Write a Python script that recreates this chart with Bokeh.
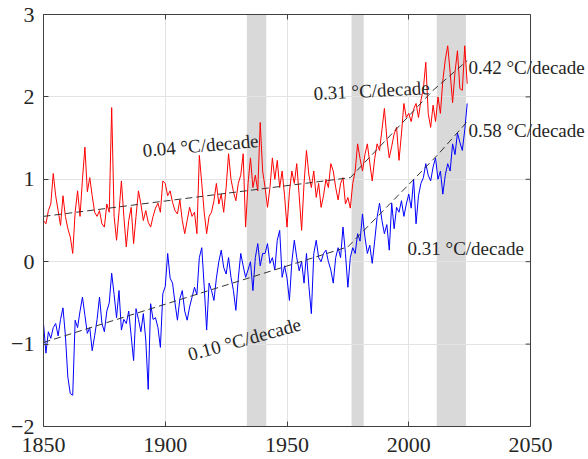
from bokeh.plotting import figure
from bokeh.models import Label, LinearAxis, BoxAnnotation, FixedTicker, Range1d, CustomJSTickFormatter, Span
from bokeh.embed import file_html
from bokeh.resources import INLINE
import math

years = list(range(1850, 2025))

land = [
    0.50, 0.46, 0.62, 0.70, 1.07, 0.80, 0.62, 0.44, 0.80, 0.55,
    0.40, 0.30, 0.10, 0.60, 0.86, 0.55, 1.00, 1.39, 0.85, 1.02,
    0.80, 0.60, 0.55, 0.62, 0.46, 0.42, 0.70, 0.60, 1.87, 0.55,
    0.26, 0.60, 0.98, 0.55, 0.18, 0.50, 0.66, 0.22, 0.55, 0.86,
    0.70, 0.50, 0.62, 0.48, 0.42, 0.55, 0.65, 0.71, 0.60, 0.98,
    0.95, 0.80, 0.86, 0.72, 0.62, 0.58, 0.75, 0.50, 0.34, 0.50,
    0.66, 0.55, 0.60, 0.34, 1.29, 0.95, 0.60, 0.34, 0.55, 0.60,
    0.74, 0.95, 0.70, 0.82, 0.60, 0.90, 1.31, 1.00, 0.85, 0.74,
    0.95, 1.05, 1.31, 0.42, 0.95, 1.26, 0.90, 1.05, 0.86, 1.69,
    1.10, 0.90, 0.66, 0.90, 1.26, 1.00, 1.23, 0.90, 1.10, 0.80,
    0.42, 0.85, 1.10, 0.95, 1.19, 0.80, 0.38, 0.95, 1.35, 1.05,
    0.90, 1.10, 0.78, 0.95, 0.66, 0.80, 1.00, 0.90, 1.19, 1.10,
    0.90, 0.75, 0.95, 1.02, 0.70, 0.78, 0.65, 0.95, 1.10, 1.43,
    1.25, 1.10, 1.30, 1.43, 1.20, 0.98, 1.25, 1.43, 1.35, 1.60,
    1.86, 1.50, 1.26, 1.40, 1.55, 1.63, 1.23, 1.55, 1.92, 1.75,
    1.80, 1.70, 1.85, 1.92, 1.75, 1.96, 2.10, 2.42, 1.80, 1.63,
    1.90, 1.70, 2.00, 1.80, 2.20, 2.45, 2.62, 2.30, 1.93, 2.30,
    2.56, 2.10, 2.08, 2.62, 2.16,
]

ocean = [
    -0.75, -1.11, -0.85, -0.93, -0.80, -0.75, -0.90, -0.70, -0.56, -0.90,
    -1.40, -1.60, -1.62, -0.71, -0.80, -0.60, -0.43, -0.65, -0.87, -0.80,
    -1.08, -0.90, -0.70, -0.43, -0.75, -0.85, -0.60, -0.50, -0.14, -0.40,
    -0.68, -0.35, -0.83, -0.70, -0.75, -0.60, -0.90, -1.20, -0.57, -0.70,
    -0.85, -0.63, -0.95, -1.55, -0.51, -0.70, -0.68, -0.80, -1.04, -0.39,
    -0.30, 0.10, -0.20, -0.26, -0.50, -0.71, -0.45, -0.35, -0.60, -0.71,
    -0.55, -0.43, -0.31, -0.40, 0.05, 0.17, -0.30, -0.83, -0.26, -0.35,
    -0.47, -0.20, 0.00, 0.14, -0.07, -0.15, 0.05, -0.19, -0.35, -0.59,
    -0.20, 0.10, -0.05, -0.19, -0.10, 0.00, -0.35, 0.05, 0.22, -0.05,
    0.10, 0.10, 0.22, -0.02, 0.05, -0.10, 0.26, 0.38, -0.19, -0.05,
    -0.20, -0.47, 0.00, 0.26, 0.05, -0.11, 0.00, -0.26, 0.10, -0.30,
    -0.63, 0.10, 0.26, 0.05, 0.00, 0.10, 0.14, 0.00, -0.10, -0.26,
    0.05, 0.17, 0.05, 0.42, 0.10, -0.31, 0.05, 0.17, 0.10, 0.34,
    0.25, 0.58, 0.30, 0.10, 0.20, -0.02, 0.25, 0.54, 0.71, 0.50,
    0.34, 0.45, 0.14, 0.71, 0.40, 0.66, 0.60, 0.74, 0.55, 0.70,
    0.82, 0.65, 1.00, 0.46, 0.80, 0.95, 1.02, 1.19, 1.05, 0.98,
    1.15, 1.26, 1.00, 1.10, 0.82, 1.05, 1.19, 1.10, 1.43, 1.30,
    1.56, 1.45, 1.35, 1.60, 1.92,
]

# piecewise trend lines (breakpoint years and values)
land_trend_years = [1850, 1976, 2010, 2024]
land_trend_values = [0.55, 1.02, 2.08, 2.44]
ocean_trend_years = [1850, 1975, 2012, 2024]
ocean_trend_values = [-0.98, 0.18, 1.30, 1.70]

# shaded periods
band_start = [1933.5, 1976.5, 2011.5]
band_end = [1941.5, 1981.5, 2023.5]

# rate labels: text, x, y, angle (degrees)
rate_texts = ["0.04 °C/decade", "0.10 °C/decade", "0.31 °C/decade",
              "0.31 °C/decade", "0.42 °C/decade", "0.58 °C/decade"]
rate_x = [1890.7, 1909.5, 1960.9, 1999.5, 2024.5, 2024.5]
rate_y = [1.35, -1.13, 2.04, 0.16, 2.36, 1.59]
rate_angle = [4.9, 15.5, 3.0, 0.0, 0.0, 0.0]

x_ticks = [1850, 1900, 1950, 2000, 2050]
y_ticks = [-2, -1, 0, 1, 2, 3]
x_lo, x_hi = 1850, 2050
y_lo, y_hi = -2, 3

SERIF = "Liberation Serif"
AXC = "#404040"

# px per year is 487/200; the drawing area is widened so that the
# right-hand rate labels can run past the axes box
extra_years = 58 * 200 / 487
p = figure(
    frame_width=545, frame_height=412,
    x_range=Range1d(x_lo, x_hi + extra_years), y_range=Range1d(y_lo, y_hi),
    output_backend="svg", toolbar_location=None,
    min_border_left=43, min_border_right=0, min_border_top=14, min_border_bottom=33,
    background_fill_color="white", border_fill_color="white",
)
p.outline_line_color = None

for ax in (p.xaxis[0], p.yaxis[0]):
    ax.major_tick_in = 5
    ax.major_tick_out = 0
    ax.minor_tick_line_color = None
    ax.axis_line_color = AXC
    ax.major_tick_line_color = AXC
    ax.major_label_text_font = SERIF
    ax.major_label_text_font_size = "22px"
    ax.major_label_text_color = "#262626"
p.xaxis[0].ticker = FixedTicker(ticks=x_ticks)
p.xaxis[0].bounds = (x_lo, x_hi)
p.yaxis[0].ticker = FixedTicker(ticks=y_ticks)
p.xaxis[0].major_label_standoff = 11
p.yaxis[0].major_label_standoff = 9

blank = CustomJSTickFormatter(code="return ''")
top_ax = LinearAxis(ticker=FixedTicker(ticks=x_ticks), major_tick_in=5, major_tick_out=0,
                    minor_tick_line_color=None, axis_line_color=AXC, major_tick_line_color=AXC,
                    formatter=blank, major_label_standoff=0, bounds=(x_lo, x_hi))
p.add_layout(top_ax, "above")

p.xgrid.ticker = FixedTicker(ticks=x_ticks)
p.ygrid.ticker = FixedTicker(ticks=y_ticks)
p.grid.grid_line_color = "#e3e3e3"
p.grid.grid_line_width = 1

for s, e in zip(band_start, band_end):
    p.add_layout(BoxAnnotation(left=s, right=e, fill_color="#d9d9d9", fill_alpha=1.0,
                               line_alpha=0, level="image"))

# blank out grid lines beyond the axes box
p.add_layout(BoxAnnotation(left=x_hi, fill_color="white", fill_alpha=1.0,
                           line_alpha=0, level="underlay"))
# right edge of the axes box with inward ticks
p.add_layout(Span(location=x_hi, dimension="height", line_color=AXC, line_width=1))
p.segment(x0=[x_hi] * len(y_ticks), y0=y_ticks, x1=[x_hi - 2.0] * len(y_ticks), y1=y_ticks,
          line_color=AXC, line_width=1)

p.line(years, land, line_color="#ff0000", line_width=1)
p.line(years, ocean, line_color="#0000ff", line_width=1)
p.line(land_trend_years, land_trend_values, line_color="#333333", line_width=1, line_dash="7 4")
p.line(ocean_trend_years, ocean_trend_values, line_color="#333333", line_width=1, line_dash="7 4")

for t, x, y, a in zip(rate_texts, rate_x, rate_y, rate_angle):
    p.add_layout(Label(x=x, y=y, text=t, angle=math.radians(a), text_font=SERIF,
                       text_font_size="19px", text_color="#262626", level="overlay",
                       text_baseline="alphabetic", text_align="left"))

open("out.html", "w").write(file_html(p, INLINE))
